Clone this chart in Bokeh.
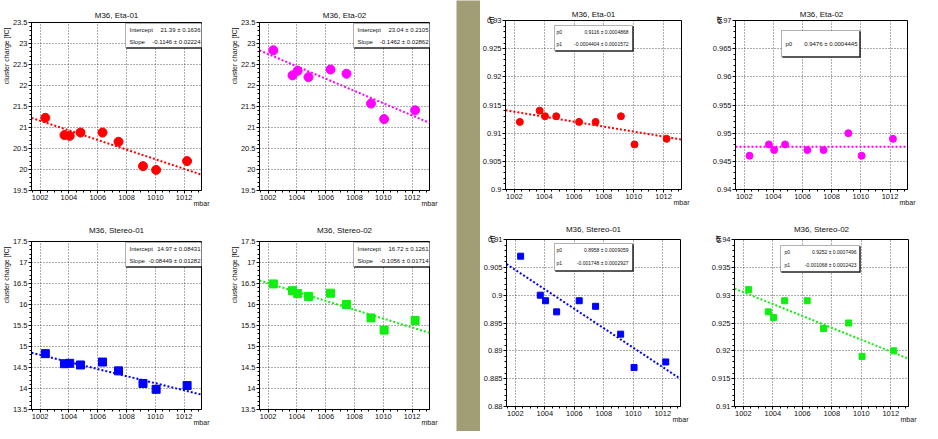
import numpy as np
from bokeh.plotting import figure
from bokeh.layouts import row, column
from bokeh.models import Range1d, FixedTicker, Label, BoxAnnotation, Title
from bokeh.embed import file_html
from bokeh.resources import INLINE

# ---------------- data ----------------
pressure = [1002.36, 1003.69, 1004.05, 1004.80, 1006.33, 1007.44, 1009.14, 1010.05, 1012.20]

charge_eta01 = [21.23, 20.82, 20.80, 20.88, 20.88, 20.66, 20.08, 19.99, 20.20]
charge_eta02 = [22.84, 22.24, 22.35, 22.20, 22.38, 22.28, 21.57, 21.20, 21.41]
charge_st01 = [14.83, 14.59, 14.60, 14.56, 14.63, 14.42, 14.12, 13.98, 14.07]
charge_st02 = [16.49, 16.33, 16.26, 16.19, 16.27, 16.00, 15.68, 15.39, 15.62]

eff_eta01 = [0.912, 0.914, 0.913, 0.913, 0.912, 0.912, 0.913, 0.908, 0.909]
eff_eta02 = [0.946, 0.948, 0.947, 0.948, 0.947, 0.947, 0.950, 0.946, 0.949]
eff_st01 = [0.907, 0.900, 0.899, 0.897, 0.899, 0.898, 0.893, 0.887, 0.888]
eff_st02 = [0.931, 0.927, 0.926, 0.929, 0.929, 0.924, 0.925, 0.919, 0.920]

# fit parameters (p0, p1) with the x offset used by each fit
fit_charge_eta01 = (21.39, -0.1146)
fit_charge_eta02 = (23.04, -0.1462)
fit_charge_st01 = (14.97, -0.08449)
fit_charge_st02 = (16.72, -0.1056)
fit_eff_eta01 = (0.9116, -0.0004404)
fit_eff_eta02 = (0.9476, 0.0)
fit_eff_st01 = (0.8958, -0.001748)
fit_eff_st02 = (0.9252, -0.001068)
charge_x0 = 1000.0
eff_x0 = 1007.0

stats_charge_eta01 = [("Intercept", "21.39 \u00b1 0.1636"), ("Slope", "-0.1146 \u00b1 0.02224")]
stats_charge_eta02 = [("Intercept", "23.04 \u00b1 0.2105"), ("Slope", "-0.1462 \u00b1 0.02862")]
stats_charge_st01 = [("Intercept", "14.97 \u00b1 0.08431"), ("Slope", "-0.08449 \u00b1 0.01282")]
stats_charge_st02 = [("Intercept", "16.72 \u00b1 0.1261"), ("Slope", "-0.1056 \u00b1 0.01714")]
stats_eff_eta01 = [("p0", "0.9116 \u00b1 0.0004868"), ("p1", "-0.0004404 \u00b1 0.0001572")]
stats_eff_eta02 = [("p0", "0.9476 \u00b1 0.0004445")]
stats_eff_st01 = [("p0", "0.8958 \u00b1 0.0009059"), ("p1", "-0.001748 \u00b1 0.0002927")]
stats_eff_st02 = [("p0", "0.9252 \u00b1 0.0007496"), ("p1", "-0.001068 \u00b1 0.0002423")]

x_major = [1002, 1004, 1006, 1008, 1010, 1012]
x_labels = ["1002", "1004", "1006", "1008", "1010", "1012"]

charge_eta_ticks = [19.5, 20.0, 20.5, 21.0, 21.5, 22.0, 22.5, 23.0, 23.5]
charge_eta_labels = ["19.5", "20", "20.5", "21", "21.5", "22", "22.5", "23", "23.5"]
charge_st_ticks = [13.5, 14.0, 14.5, 15.0, 15.5, 16.0, 16.5, 17.0, 17.5]
charge_st_labels = ["13.5", "14", "14.5", "15", "15.5", "16", "16.5", "17", "17.5"]
eff_eta01_ticks = [0.9, 0.905, 0.91, 0.915, 0.92, 0.925, 0.93]
eff_eta01_labels = ["0.9", "0.905", "0.91", "0.915", "0.92", "0.925", "0.93"]
eff_eta02_ticks = [0.94, 0.945, 0.95, 0.955, 0.96, 0.965, 0.97]
eff_eta02_labels = ["0.94", "0.945", "0.95", "0.955", "0.96", "0.965", "0.97"]
eff_st01_ticks = [0.88, 0.885, 0.89, 0.895, 0.9, 0.905, 0.91]
eff_st01_labels = ["0.88", "0.885", "0.89", "0.895", "0.9", "0.905", "0.91"]
eff_st02_ticks = [0.91, 0.915, 0.92, 0.925, 0.93, 0.935, 0.94]
eff_st02_labels = ["0.91", "0.915", "0.92", "0.925", "0.93", "0.935", "0.94"]

# ---------------- style ----------------
FONT = "Liberation Sans"
OLIVE = "#a19e76"
X_LO, X_HI = 1001.4, 1013.2
TXT = "#111111"


def make_panel(W, H, L, R, T, B, title, title_gap, ylabel, ylab_standoff, yticks, ylabels,
               yminor_step, xs, ys, color, marker, msize, fit, x0, stats, box, stat_font):
    fw = W - L - R
    fh = H - T - B
    p = figure(width=W, height=H, min_border_left=L, min_border_right=R,
               min_border_top=T, min_border_bottom=B,
               x_range=Range1d(X_LO, X_HI), y_range=Range1d(yticks[0], yticks[-1]),
               output_backend="svg", toolbar_location=None, tools="")
    p.border_fill_color = "white"
    p.background_fill_color = "white"
    p.outline_line_color = "black"
    p.outline_line_width = 1

    # title
    p.title.text = title
    p.title.align = "center"
    p.title.text_font = FONT
    p.title.text_font_size = "8px"
    p.title.text_font_style = "normal"
    p.title.text_color = TXT
    p.title.standoff = title_gap
    p.title.offset = 0

    x_minor = list(np.arange(1001.5, 1013.01, 0.5))
    p.xaxis.ticker = FixedTicker(ticks=x_major, minor_ticks=x_minor)
    p.xaxis.major_label_overrides = dict(zip(x_major, x_labels))
    y_minor = list(np.arange(yticks[0], yticks[-1] + yminor_step / 2, yminor_step))
    p.yaxis.ticker = FixedTicker(ticks=yticks, minor_ticks=y_minor)
    p.yaxis.major_label_overrides = dict(zip(yticks, ylabels))

    for ax in (p.xaxis[0], p.yaxis[0]):
        ax.axis_line_color = "black"
        ax.major_tick_line_color = "black"
        ax.minor_tick_line_color = "black"
        ax.major_tick_in = 0
        ax.major_tick_out = 3
        ax.minor_tick_in = 0
        ax.minor_tick_out = 2
        ax.major_label_text_font = FONT
        ax.major_label_text_font_size = "7.5px"
        ax.major_label_text_color = TXT
        ax.axis_label_text_font = FONT
        ax.axis_label_text_font_size = "7px"
        ax.axis_label_text_font_style = "normal"
        ax.axis_label_text_color = TXT
        ax.axis_label_align = "end"
        ax.axis_label_standoff_mode = "axis"
    p.xaxis.major_label_standoff = 1
    p.yaxis.major_label_standoff = 1
    p.xaxis.axis_label = "mbar"
    p.xaxis.axis_label_text_align = "right"
    p.xaxis.axis_label_standoff = 9

    if ylabel == "eff":
        p.yaxis.axis_label = ylabel
        p.yaxis.axis_label_standoff = ylab_standoff
    else:
        # long y title placed at the top end of the axis, reading upwards
        p.add_layout(Title(text=ylabel, align="right", offset=5, standoff=0,
                           text_font=FONT, text_font_size="7px", text_font_style="normal",
                           text_color=TXT), "left")

    p.grid.grid_line_color = "#333333"
    p.grid.grid_line_dash = "1 2"
    p.grid.grid_line_width = 0.8

    # data
    p.scatter(xs, ys, marker=marker, size=msize, color=color)
    p0, p1 = fit
    fx = [X_LO, X_HI]
    fy = [p0 + p1 * (X_LO - x0), p0 + p1 * (X_HI - x0)]
    p.line(fx, fy, line_color=color, line_width=2, line_dash="2 2")

    # stats box (positions measured from frame top-left, downwards positive)
    bl, br, bt, bb, name_x, val_r, line_y = box
    if bl < 0:  # anchored to the right edge of the frame
        bl, br, name_x, val_r = fw + bl, fw + br, fw + name_x, fw + val_r
    p.add_layout(BoxAnnotation(left=bl + 1, right=br + 1, top=fh - bt - 1, bottom=fh - bb - 1,
                               left_units="screen", right_units="screen",
                               top_units="screen", bottom_units="screen",
                               fill_color="black", fill_alpha=1, line_color="black",
                               line_width=1))
    p.add_layout(BoxAnnotation(left=bl, right=br, top=fh - bt, bottom=fh - bb,
                               left_units="screen", right_units="screen",
                               top_units="screen", bottom_units="screen",
                               fill_color="white", fill_alpha=1, line_color="black",
                               line_width=1))
    for (name, val), ly in zip(stats, line_y):
        p.add_layout(Label(x=name_x, y=fh - ly, x_units="screen", y_units="screen",
                           text=name, text_align="left", text_baseline="middle",
                           text_font=FONT, text_font_size=stat_font, text_color=TXT))
        p.add_layout(Label(x=val_r, y=fh - ly, x_units="screen", y_units="screen",
                           text=val, text_align="right", text_baseline="middle",
                           text_font=FONT, text_font_size=stat_font, text_color=TXT))
    return p


CH = "cluster charge [fC]"
CBOX = (-80, -2, 1, 25, -76, -5, [7, 19])
f1 = make_panel(228, 215, 27, 27, 22, 25, "M36, Eta-01", 5, CH, 0, charge_eta_ticks, charge_eta_labels, 0.1,
                pressure, charge_eta01, "#ff0000", "circle", 9, fit_charge_eta01, charge_x0,
                stats_charge_eta01, CBOX, "6px")
f2 = make_panel(228, 215, 27, 27, 22, 25, "M36, Eta-02", 5, CH, 0, charge_eta_ticks, charge_eta_labels, 0.1,
                pressure, charge_eta02, "#ff00ff", "circle", 9, fit_charge_eta02, charge_x0,
                stats_charge_eta02, CBOX, "6px")
f3 = make_panel(228, 216, 27, 27, 26, 22, "M36, Stereo-01", 13, CH, 0, charge_st_ticks, charge_st_labels, 0.1,
                pressure, charge_st01, "#0000ff", "square", 8, fit_charge_st01, charge_x0,
                stats_charge_st01, CBOX, "6px")
f4 = make_panel(228, 216, 27, 27, 26, 22, "M36, Stereo-02", 13, CH, 0, charge_st_ticks, charge_st_labels, 0.1,
                pressure, charge_st02, "#11ee11", "square", 8, fit_charge_st02, charge_x0,
                stats_charge_st02, CBOX, "6px")

f5 = make_panel(225, 215, 25, 24, 20, 26, "M36, Eta-01", 3, "eff", 11, eff_eta01_ticks, eff_eta01_labels, 0.001,
                pressure, eff_eta01, "#ff0000", "circle", 7, fit_eff_eta01, eff_x0,
                stats_eff_eta01, (49, 127, 5, 30, 51, 123, [11, 23]), "5px")
f6 = make_panel(225, 215, 30, 23, 20, 26, "M36, Eta-02", 3, "eff", 13, eff_eta02_ticks, eff_eta02_labels, 0.001,
                pressure, eff_eta02, "#ff00ff", "circle", 7, fit_eff_eta02, eff_x0,
                stats_eff_eta02, (46, 124, 10, 36, 50, 122, [23]), "6px")
f7 = make_panel(225, 216, 26, 25, 24, 24, "M36, Stereo-01", 12, "eff", 11, eff_st01_ticks, eff_st01_labels, 0.001,
                pressure, eff_st01, "#0000ff", "square", 6, fit_eff_st01, eff_x0,
                stats_eff_st01, (48, 126, 5, 32, 50, 122, [11.5, 24.5]), "5px")
f8 = make_panel(225, 216, 29, 22, 24, 25, "M36, Stereo-02", 12, "eff", 13, eff_st02_ticks, eff_st02_labels, 0.001,
                pressure, eff_st02, "#11ee11", "square", 6, fit_eff_st02, eff_x0,
                stats_eff_st02, (46, 125, 6, 32, 50, 122, [12, 25]), "5px")

gap = figure(width=24, height=431, min_border=0, output_backend="svg",
             toolbar_location=None, tools="", x_range=Range1d(0, 1), y_range=Range1d(0, 1))
gap.title.visible = False
gap.axis.visible = False
gap.grid.visible = False
gap.outline_line_color = None
gap.background_fill_color = OLIVE
gap.border_fill_color = OLIVE

layout = row(column(row(f1, f2), row(f3, f4)), gap, column(row(f5, f6), row(f7, f8)))

open("out.html", "w").write(file_html(layout, INLINE))
